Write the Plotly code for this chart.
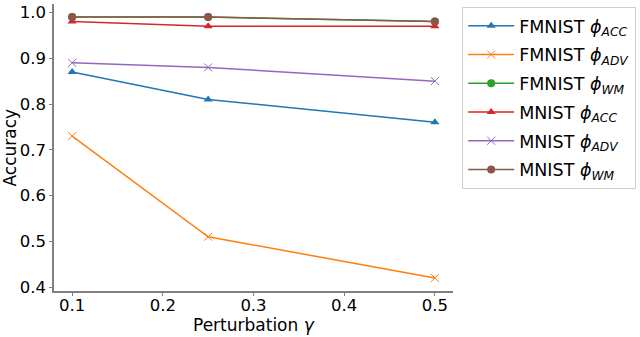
import plotly.graph_objects as go

gamma = [0.1, 0.25, 0.5]
fmnist_acc = [0.87, 0.81, 0.76]
fmnist_adv = [0.73, 0.51, 0.42]
fmnist_wm = [0.99, 0.99, 0.98]
mnist_acc = [0.98, 0.97, 0.97]
mnist_adv = [0.89, 0.88, 0.85]
mnist_wm = [0.99, 0.99, 0.98]
x_ticks = [0.1, 0.2, 0.3, 0.4, 0.5]
y_ticks = [0.4, 0.5, 0.6, 0.7, 0.8, 0.9, 1.0]

series = [
    ("FMNIST <i>ϕ</i><sub><i>ACC</i></sub>", fmnist_acc, "#1f77b4", "triangle-up"),
    ("FMNIST <i>ϕ</i><sub><i>ADV</i></sub>", fmnist_adv, "#ff7f0e", "x-thin-open"),
    ("FMNIST <i>ϕ</i><sub><i>WM</i></sub>", fmnist_wm, "#2ca02c", "circle"),
    ("MNIST <i>ϕ</i><sub><i>ACC</i></sub>", mnist_acc, "#d62728", "triangle-up"),
    ("MNIST <i>ϕ</i><sub><i>ADV</i></sub>", mnist_adv, "#9467bd", "x-thin-open"),
    ("MNIST <i>ϕ</i><sub><i>WM</i></sub>", mnist_wm, "#8c564b", "circle"),
]

fig = go.Figure()
for i, (name, vals, color, sym) in enumerate(series):
    if sym.startswith("x"):
        marker = dict(symbol=sym, size=8, color=color, line=dict(color=color, width=1))
    else:
        marker = dict(symbol=sym, size=8, color=color, line=dict(width=0))
    fig.add_trace(go.Scatter(
        x=gamma, y=vals, name=name, mode="lines+markers", legendgroup=f"g{i}",
        line=dict(color=color, width=1.5), marker=marker,
    ))

tick_font = dict(family="DejaVu Sans", size=16.5, color="black")
title_font = dict(family="DejaVu Sans", size=17, color="black")
axis_common = dict(
    showgrid=False, zeroline=False, showline=True, linecolor="#808080", linewidth=1.5,
    ticks="outside", ticklen=3, tickcolor="#808080", tickwidth=1.2,
    tickfont=tick_font, mirror=False, automargin=False,
)
fig.update_layout(
    width=640, height=337,
    margin=dict(l=54, r=187, t=4, b=46),
    paper_bgcolor="white", plot_bgcolor="white",
    font=tick_font,
    showlegend=True,
    legend=dict(
        x=1.023, y=0.99, xanchor="left", yanchor="top",
        bordercolor="#d0d0d0", borderwidth=1, bgcolor="white",
        font=dict(family="DejaVu Sans", size=17.5, color="black"),
        tracegroupgap=3, itemwidth=46,
    ),
    xaxis=dict(range=[0.08, 0.52], tickvals=x_ticks, ticklabelstandoff=-5,
               ticktext=[f"{v:.1f}" for v in x_ticks], **axis_common),
    yaxis=dict(range=[0.3915, 1.0185], tickvals=y_ticks, ticklabelstandoff=0,
               ticktext=[f"{v:.1f}" for v in y_ticks], **axis_common),
    annotations=[
        dict(text="Perturbation <i>γ</i>", xref="paper", yref="paper",
             x=0.5, y=0, yshift=-34, xanchor="center", yanchor="middle",
             showarrow=False, font=title_font),
        dict(text="Accuracy", xref="paper", yref="paper", textangle=-90,
             x=0, y=0.5, xshift=-45, xanchor="center", yanchor="middle",
             showarrow=False, font=title_font),
    ],
)
fig.write_html(
    "out.html",
    config={"displayModeBar": False},
    post_script="document.body.style.margin='0';document.body.style.overflow='hidden';",
)
